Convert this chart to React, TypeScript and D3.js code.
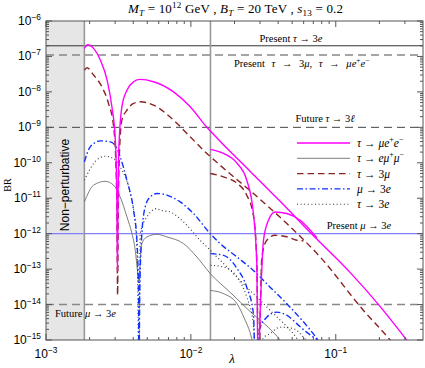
import React from "react";
import * as d3 from "d3";

// ---------- data ----------
const lamMueeA = [1.84e-3,1.94e-3,2.13e-3,2.37e-3,2.64e-3,2.85e-3,3.01e-3,3.08e-3,3.11e-3,3.14e-3,3.18e-3,3.34e-3,3.62e-3,4.02e-3,4.47e-3,5.52e-3,7.59e-3,9.89e-3,1.29e-2,1.59e-2,2.56e-2,4.13e-2,6.97e-2,0.1255,0.202,0.33];
const brMueeA = [1.69e-7,2.14e-7,1.69e-7,7.9e-8,2.15e-8,3.8e-9,4.35e-10,1.7e-11,9e-14,8.8e-12,2.3e-10,3.8e-9,1.12e-8,1.93e-8,2.25e-8,1.93e-8,1.0e-8,3.8e-9,1.0e-9,4.07e-10,5.8e-11,8.2e-12,9.0e-13,8.1e-14,8.9e-15,7e-16];
const lamMueeB = [1.365e-2,1.68e-2,2.08e-2,2.43e-2,2.70e-2,2.85e-2,2.91e-2,3.01e-2,3.17e-2,3.43e-2,3.81e-2,4.59e-2,5.68e-2,7.4e-2];
const brMueeB = [2.38e-10,1.83e-10,9.75e-11,3.22e-11,3.77e-12,1.46e-13,1e-16,6.9e-15,6.5e-13,2.4e-12,4.1e-12,3.7e-12,2.4e-12,7.7e-13];

const lamEmmA = [1.84e-3,2.13e-3,2.56e-3,2.93e-3,3.25e-3,3.62e-3,3.92e-3,4.13e-3,4.26e-3,4.32e-3,4.365e-3,4.42e-3,4.47e-3,4.59e-3,4.97e-3,5.83e-3,6.83e-3,8.89e-3,1.10e-2,1.36e-2,1.87e-2,2.56e-2,3.41e-2,4.13e-2,4.4e-2];
const brEmmA = [7.85e-12,2.33e-11,3.0e-11,2.33e-11,1.09e-11,2.97e-12,1.0e-12,3.4e-13,1.05e-13,6.3e-14,4.2e-14,6.3e-14,1.56e-13,5.25e-13,8.1e-13,9.6e-13,8.1e-13,5.25e-13,2.2e-13,7.5e-14,2.2e-14,6.4e-15,2.3e-15,1e-15,7e-16];
const lamEmmB = [1.365e-2,1.68e-2,2.08e-2,2.37e-2,2.56e-2,2.70e-2];
const brEmmB = [2.5e-14,2.03e-14,1.06e-14,3.6e-15,1.64e-15,7e-16];

const lamTmmmA = [1.84e-3,1.92e-3,2.13e-3,2.43e-3,2.70e-3,2.93e-3,3.03e-3,3.09e-3,3.12e-3,3.15e-3,3.20e-3,3.34e-3,3.62e-3,4.02e-3,4.47e-3,5.52e-3,7.59e-3,9.89e-3,1.29e-2,1.59e-2,2.70e-2,4.59e-2,7.80e-2,0.155,0.237,0.257];
const brTmmmA = [4.13e-8,4.8e-8,3.0e-8,1.39e-8,4.73e-9,1.03e-9,1.18e-10,2.4e-12,1.82e-14,2.4e-12,1.18e-10,1.6e-9,3.06e-9,4.73e-9,5.25e-9,4.24e-9,1.6e-9,5.4e-10,1.83e-10,8.55e-11,1.36e-11,1.93e-12,2.2e-13,6.9e-15,1e-15,6.6e-16];
const lamTmmmB = [1.365e-2,1.68e-2,2.08e-2,2.43e-2,2.70e-2,2.85e-2,2.93e-2,3.09e-2,3.34e-2,3.81e-2,4.59e-2,5.38e-2,5.98e-2];
const brTmmmB = [4.99e-11,4.0e-11,2.65e-11,1.22e-11,3.3e-12,1.77e-13,1e-16,2.2e-13,6.5e-13,9.0e-13,8.2e-13,6.5e-13,6.3e-13];

const lamMeeeA = [1.84e-3,2.02e-3,2.37e-3,2.78e-3,3.09e-3,3.25e-3,3.62e-3,4.02e-3,4.24e-3,4.35e-3,4.38e-3,4.44e-3,4.59e-3,4.84e-3,5.24e-3,5.83e-3,6.83e-3,8.44e-3,1.042e-2,1.36e-2,1.59e-2,2.08e-2,2.70e-2,3.52e-2,4.59e-2,7.55e-2,8.05e-2];
const brMeeeA = [1.06e-10,2.81e-10,4.16e-10,3.89e-10,2.53e-10,1.47e-10,3.2e-11,4.6e-12,6.5e-13,2.5e-14,1e-16,2.5e-14,1.03e-12,5.7e-12,1.09e-11,1.36e-11,1.22e-11,7.85e-12,3.7e-12,1.0e-12,5.25e-13,2.2e-13,9.2e-14,3.1e-14,1.06e-14,1e-15,7e-16];
const lamMeeeB = [1.365e-2,1.68e-2,2.08e-2,2.43e-2,2.70e-2,2.80e-2,2.92e-2,3.34e-2,3.92e-2,4.59e-2,5.38e-2,6.31e-2,7.55e-2];
const brMeeeB = [2.74e-13,2.45e-13,1.05e-13,3.06e-14,5.6e-15,1e-16,1.53e-15,4.4e-15,6.1e-15,5.0e-15,2.9e-15,1.64e-15,1e-15];

const lamTeeeA = [1.84e-3,2.13e-3,2.56e-3,2.93e-3,3.25e-3,3.81e-3,4.13e-3,4.28e-3,4.37e-3,4.47e-3,4.97e-3,5.83e-3,6.14e-3,7.20e-3,8.89e-3,1.159e-2,1.36e-2,1.87e-2,2.56e-2,3.52e-2,5.50e-2,6.0e-2];
const brTeeeA = [3.2e-11,9.5e-11,1.53e-10,1.32e-10,7.65e-11,1.36e-11,1.93e-12,1.15e-13,1e-16,1.0e-12,2.97e-12,5.1e-12,4.6e-12,4.1e-12,2.14e-12,6.5e-13,3.4e-13,9.2e-14,2.5e-14,6.9e-15,1e-15,6e-16];
const lamTeeeB = [1.365e-2,1.68e-2,2.08e-2,2.43e-2,2.70e-2,2.80e-2,3.15e-2,3.52e-2,4.13e-2,5.10e-2,5.98e-2,6.44e-2];
const brTeeeB = [1.28e-13,1.15e-13,6.0e-14,1.63e-14,2.9e-15,1e-16,1.1e-15,1.53e-15,2.3e-15,2.1e-15,1.2e-15,8.5e-16];

const lamNonPert = 1.84e-3;
const lamSplit = 1.365e-2;
const limPresentTau3e = 2.0e-7;
const limPresentTau3mu = 1.1e-7;
const limFutureTau3l = 1e-9;
const limPresentMu3e = 1e-12;
const limFutureMu3e = 1e-14;

const xDomain = [1e-3, 0.4];
const yDomain = [1e-15, 1e-6];
const xMajor = [1e-3, 1e-2, 1e-1];
const xMajorExp = ["−3", "−2", "−1"];
const yMajorExp = [-6, -7, -8, -9, -10, -11, -12, -13, -14, -15];

// ---------- layout ----------
const W = 425, H = 368;
const L = 46, R = 423, T = 21, B = 340;

const x = d3.scaleLog().domain(xDomain).range([L, R]);
const y = d3.scaleLog().domain(yDomain).range([B, T]);

const line = d3.line<[number, number]>().x(d => x(d[0])).y(d => y(d[1])).curve(d3.curveMonotoneX);
const zip = (a: number[], b: number[]) => a.map((v, i) => [v, b[i]] as [number, number]);

const serif = "'Liberation Serif', 'Times New Roman', serif";
const sans = "'Liberation Sans', Arial, sans-serif";

type Seg = { t: string; i?: boolean; sup?: boolean; sub?: boolean };

function Rich({ xx, yy, segs, size, anchor = "start", family = serif, len, ws }: { xx: number; yy: number; segs: Seg[]; size: number; anchor?: string; family?: string; len?: number; ws?: number }) {
  let cur = 0;
  return (
    <text x={xx} y={yy} fontSize={size} fontFamily={family} textAnchor={anchor as any} fill="#000"
      textLength={len} lengthAdjust={len ? "spacing" : undefined} style={ws ? { wordSpacing: ws + "px" } : undefined}>
      {segs.map((s, k) => {
        const want = s.sup ? -0.42 * size : s.sub ? 0.25 * size : 0;
        const dy = want - cur;
        cur = want;
        return (
          <tspan key={k} dy={dy} fontStyle={s.i ? "italic" : "normal"} fontSize={s.sup || s.sub ? size * 0.7 : size}>
            {s.t}
          </tspan>
        );
      })}
    </text>
  );
}

const S = {
  muee: { stroke: "#ff00ff", width: 1.4, dash: "" },
  emm: { stroke: "#6e6e6e", width: 0.9, dash: "" },
  tmmm: { stroke: "#8b2323", width: 1.4, dash: "6.5,4" },
  meee: { stroke: "#1030ff", width: 1.4, dash: "6,2.5,1.5,2.5" },
  teee: { stroke: "#333", width: 1.1, dash: "1,2.6" },
};

const series = [
  { key: "emmA", d: zip(lamEmmA, brEmmA), s: S.emm },
  { key: "emmB", d: zip(lamEmmB, brEmmB), s: S.emm },
  { key: "teeeA", d: zip(lamTeeeA, brTeeeA), s: S.teee },
  { key: "teeeB", d: zip(lamTeeeB, brTeeeB), s: S.teee },
  { key: "meeeA", d: zip(lamMeeeA, brMeeeA), s: S.meee },
  { key: "meeeB", d: zip(lamMeeeB, brMeeeB), s: S.meee },
  { key: "tmmmA", d: zip(lamTmmmA, brTmmmA), s: S.tmmm },
  { key: "tmmmB", d: zip(lamTmmmB, brTmmmB), s: S.tmmm },
  { key: "mueeA", d: zip(lamMueeA, brMueeA), s: S.muee },
  { key: "mueeB", d: zip(lamMueeB, brMueeB), s: S.muee },
];

const legendItems: { s: any; segs: Seg[] }[] = [
  { s: S.muee, segs: [{ t: "τ", i: true }, { t: " → " }, { t: "μe", i: true }, { t: "+", sup: true }, { t: "e", i: true }, { t: "−", sup: true }] },
  { s: S.emm, segs: [{ t: "τ", i: true }, { t: " → " }, { t: "eμ", i: true }, { t: "+", sup: true }, { t: "μ", i: true }, { t: "−", sup: true }] },
  { s: S.tmmm, segs: [{ t: "τ", i: true }, { t: " → 3" }, { t: "μ", i: true }] },
  { s: S.meee, segs: [{ t: "μ", i: true }, { t: " → 3" }, { t: "e", i: true }] },
  { s: S.teee, segs: [{ t: "τ", i: true }, { t: " → 3" }, { t: "e", i: true }] },
];

export default function App() {
  const xMinor: number[] = [];
  for (let e = -3; e <= -1; e++) for (let m = 2; m <= 9; m++) { const v = m * Math.pow(10, e); if (v < xDomain[1]) xMinor.push(v); }
  const yMinor: number[] = [];
  for (let e = -15; e < -6; e++) for (let m = 2; m <= 9; m++) yMinor.push(m * Math.pow(10, e));
  const frame = "#555";
  return (
    <svg width={W} height={H} style={{ position: "fixed", left: 0, top: 0, background: "#fff" }}>
      <defs>
        <clipPath id="plot"><rect x={L} y={T} width={R - L} height={B - T} /></clipPath>
      </defs>
      <rect x={0} y={0} width={W} height={H} fill="#fff" />
      {/* non perturbative shade */}
      <rect x={L} y={T} width={x(lamNonPert) - L} height={B - T} fill="#e6e6e6" />
      <text transform={`translate(${(L + x(lamNonPert)) / 2 + 4},${185}) rotate(-90)`} textAnchor="middle" fontFamily={sans} fontSize={12} fill="#000">Non−perturbative</text>

      {/* limit lines */}
      <g clipPath="url(#plot)">
        <line x1={L} x2={R} y1={y(limPresentTau3e)} y2={y(limPresentTau3e)} stroke="#333" strokeWidth={1} />
        <line x1={L} x2={R} y1={y(limPresentTau3mu)} y2={y(limPresentTau3mu)} stroke="#888" strokeWidth={1.4} strokeDasharray="8,5" />
        <line x1={L} x2={R} y1={y(limFutureTau3l)} y2={y(limFutureTau3l)} stroke="#444" strokeWidth={1} strokeDasharray="8,5" />
        <line x1={L} x2={R} y1={y(limPresentMu3e)} y2={y(limPresentMu3e)} stroke="#8080ff" strokeWidth={1.4} />
        <line x1={L} x2={R} y1={y(limFutureMu3e)} y2={y(limFutureMu3e)} stroke="#888" strokeWidth={1.4} strokeDasharray="8,5" />
        <line x1={x(lamNonPert)} x2={x(lamNonPert)} y1={T} y2={B} stroke="#999" strokeWidth={1.6} />
        <line x1={x(lamSplit)} x2={x(lamSplit)} y1={T} y2={B} stroke="#999" strokeWidth={1.6} />
        {series.map(sr => (
          <path key={sr.key} d={line(sr.d) || ""} fill="none" stroke={sr.s.stroke} strokeWidth={sr.s.width} strokeDasharray={sr.s.dash || undefined} />
        ))}
      </g>

      {/* limit labels */}
      <Rich xx={291} yy={42} size={10.5} anchor="middle" segs={[{ t: "Present " }, { t: "τ", i: true }, { t: " → 3" }, { t: "e", i: true }]} />
      <Rich xx={234} yy={67} size={10.5} ws={4} segs={[{ t: "Present " }, { t: "τ", i: true }, { t: " → 3" }, { t: "μ", i: true }, { t: ", " }, { t: "τ", i: true }, { t: " → " }, { t: "μe", i: true }, { t: "+", sup: true }, { t: "e", i: true }, { t: "−", sup: true }]} />
      <Rich xx={325} yy={122} size={10.5} anchor="middle" segs={[{ t: "Future " }, { t: "τ", i: true }, { t: " → 3" }, { t: "ℓ", i: true }]} />
      <Rich xx={359} yy={229} size={10.5} anchor="middle" segs={[{ t: "Present " }, { t: "μ", i: true }, { t: " → 3" }, { t: "e", i: true }]} />
      <Rich xx={55} yy={317} size={10.5} segs={[{ t: "Future " }, { t: "μ", i: true }, { t: " → 3" }, { t: "e", i: true }]} />

      {/* legend */}
      {legendItems.map((it, k) => {
        const ly = 143 + k * 15.3;
        return (
          <g key={k}>
            <line x1={297} x2={350} y1={ly} y2={ly} stroke={it.s.stroke} strokeWidth={it.s.width} strokeDasharray={it.s.dash || undefined} />
            <Rich xx={357} yy={ly + 4} size={11.5} segs={it.segs} />
          </g>
        );
      })}

      {/* frame & ticks */}
      <rect x={L} y={T} width={R - L} height={B - T} fill="none" stroke={frame} strokeWidth={1} />
      {xMajor.map(v => (
        <g key={"xM" + v}>
          <line x1={x(v)} x2={x(v)} y1={B} y2={B - 6} stroke={frame} />
          <line x1={x(v)} x2={x(v)} y1={T} y2={T + 6} stroke={frame} />
        </g>
      ))}
      {xMinor.map(v => (
        <g key={"xm" + v}>
          <line x1={x(v)} x2={x(v)} y1={B} y2={B - 3} stroke={frame} />
          <line x1={x(v)} x2={x(v)} y1={T} y2={T + 3} stroke={frame} />
        </g>
      ))}
      {yMajorExp.map(e => (
        <g key={"yM" + e}>
          <line x1={L} x2={L + 6} y1={y(Math.pow(10, e))} y2={y(Math.pow(10, e))} stroke={frame} />
          <line x1={R} x2={R - 6} y1={y(Math.pow(10, e))} y2={y(Math.pow(10, e))} stroke={frame} />
        </g>
      ))}
      {yMinor.map(v => (
        <g key={"ym" + v}>
          <line x1={L} x2={L + 3} y1={y(v)} y2={y(v)} stroke={frame} />
          <line x1={R} x2={R - 3} y1={y(v)} y2={y(v)} stroke={frame} />
        </g>
      ))}

      {/* tick labels */}
      {yMajorExp.map(e => (
        <Rich key={"yl" + e} xx={41} yy={y(Math.pow(10, e)) + 4} size={12} anchor="end" family={sans}
          segs={[{ t: "10" }, { t: "−" + Math.abs(e), sup: true }]} />
      ))}
      {xMajor.map((v, k) => (
        <Rich key={"xl" + k} xx={x(v)} yy={358} size={12} anchor="middle" family={sans}
          segs={[{ t: "10" }, { t: xMajorExp[k], sup: true }]} />
      ))}

      {/* axis titles */}
      <text transform={`translate(11,185) rotate(-90)`} textAnchor="middle" fontFamily={serif} fontSize={10}>BR</text>
      <text x={232} y={363} textAnchor="middle" fontFamily={serif} fontStyle="italic" fontSize={13}>λ</text>

      {/* title */}
      <Rich xx={128} yy={13} size={13} len={215} segs={[
        { t: "M", i: true }, { t: "T", i: true, sub: true }, { t: " = 10" }, { t: "12", sup: true }, { t: " GeV , " },
        { t: "B", i: true }, { t: "T", i: true, sub: true }, { t: " = 20 TeV , " },
        { t: "s", i: true }, { t: "13", sub: true }, { t: " = 0.2" },
      ]} />
    </svg>
  );
}
